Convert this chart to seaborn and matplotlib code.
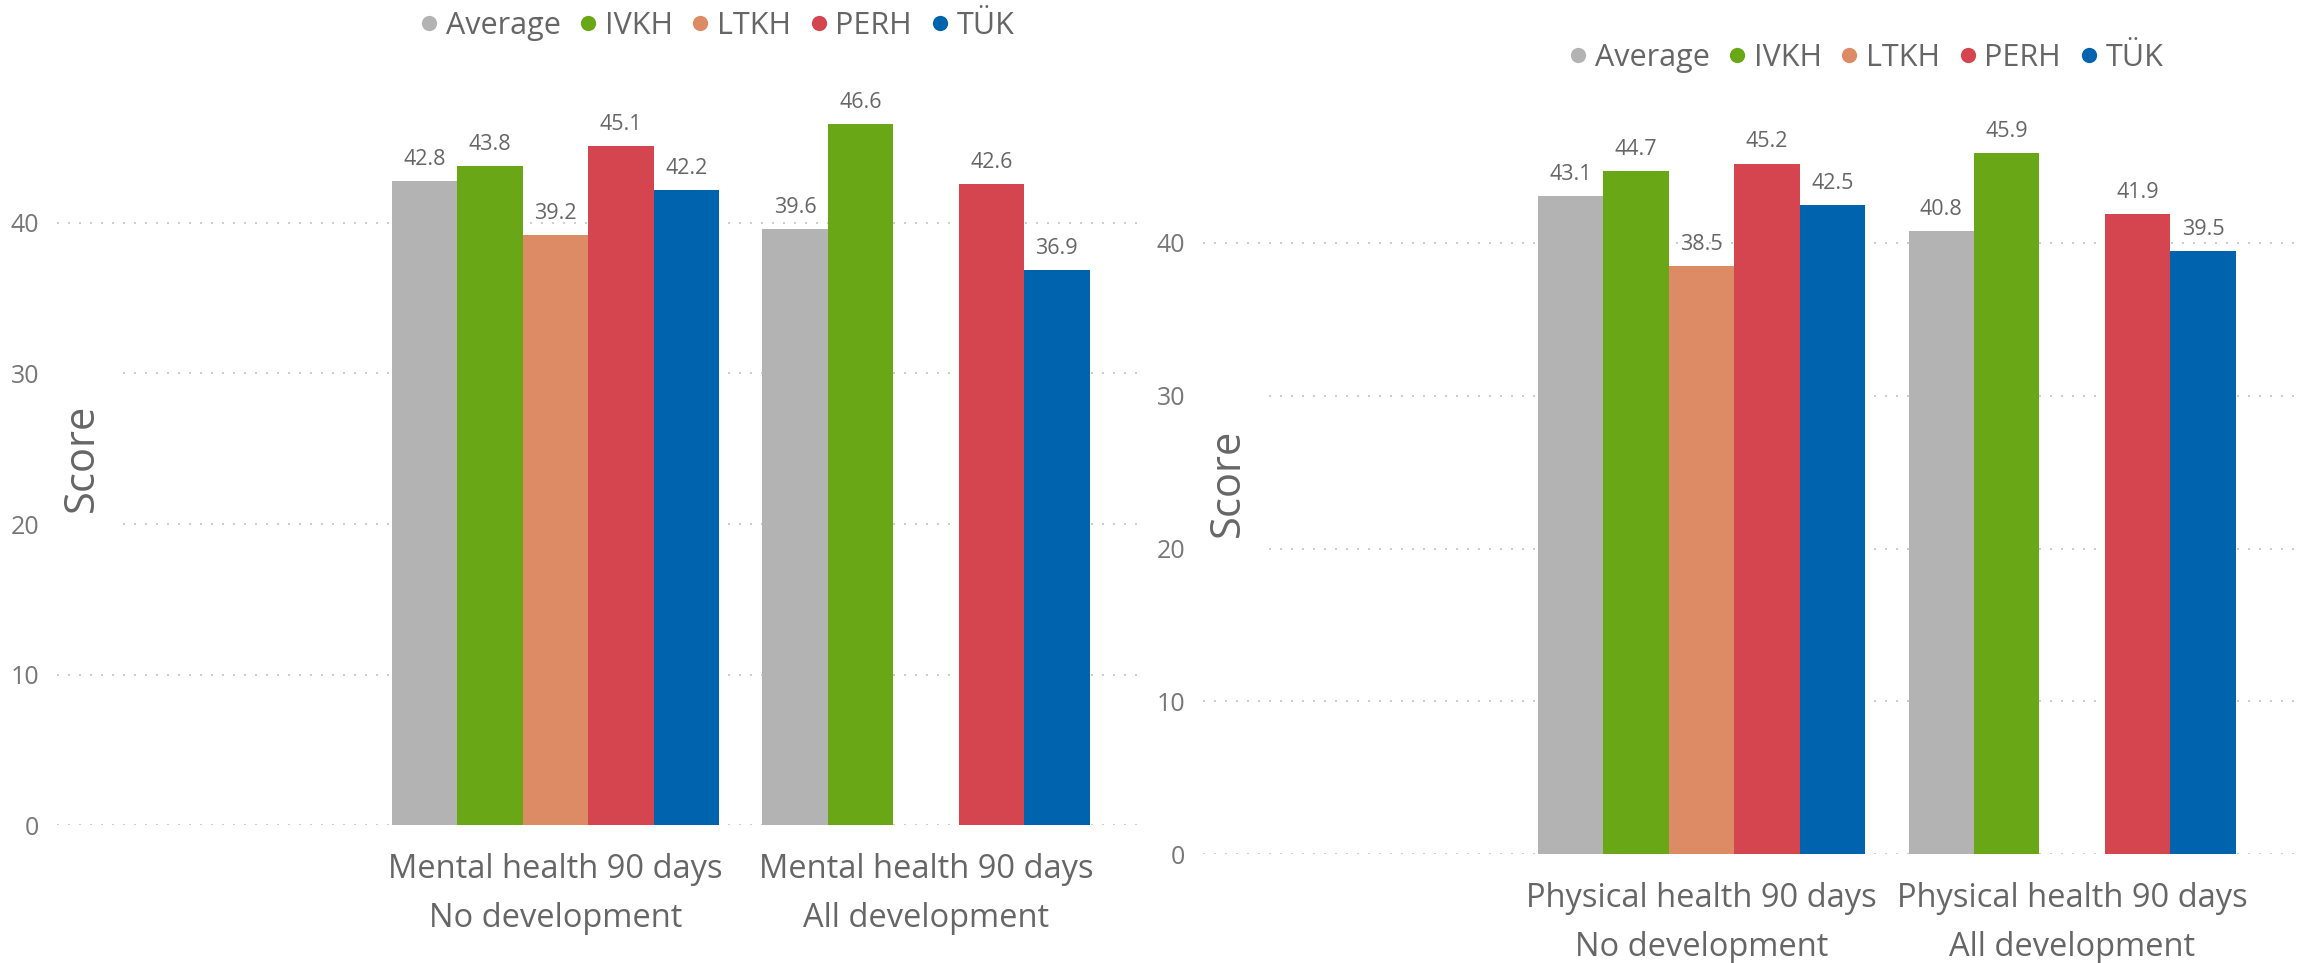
import numpy as np
import pandas as pd
import matplotlib
matplotlib.use("Agg")
import matplotlib.pyplot as plt
from matplotlib.lines import Line2D
from matplotlib.patches import Rectangle
import seaborn as sns

# ---- data -------------------------------------------------------------
groups = ["Average", "IVKH", "LTKH", "PERH", "TÜK"]
colors = ["#B3B3B3", "#6AA717", "#DD8B64", "#D5454F", "#0063AE"]

mental_categories = ["Mental health 90 days\nNo development",
                     "Mental health 90 days\nAll development"]
mental_no_dev = [42.8, 43.8, 39.2, 45.1, 42.2]
mental_all_dev = [39.6, 46.6, np.nan, 42.6, 36.9]

physical_categories = ["Physical health 90 days\nNo development",
                       "Physical health 90 days\nAll development"]
physical_no_dev = [43.1, 44.7, 38.5, 45.2, 42.5]
physical_all_dev = [40.8, 45.9, np.nan, 41.9, 39.5]

y_ticks = [0, 10, 20, 30, 40]

TEXT = "#666666"
TICK = "#777777"
GRID = "#C4C4C4"


def long_frame(categories, first, second):
    rows = []
    for cat, vals in zip(categories, [first, second]):
        for g, v in zip(groups, vals):
            rows.append({"category": cat, "group": g, "score": v})
    return pd.DataFrame(rows).dropna()


sns.set_theme(style="white")
plt.rcParams["font.family"] = ["Open Sans", "DejaVu Sans"]

fig = plt.figure(figsize=(22.97, 9.63), dpi=100)
W, H = 2297, 963


def px_axes(left, right, bottom, top):
    return fig.add_axes([left / W, 1 - bottom / H, (right - left) / W, (bottom - top) / H])


def draw_panel(ax, categories, first, second, xlim, ylim):
    df = long_frame(categories, first, second)
    sns.barplot(data=df, x="category", y="score", hue="group",
                order=categories, hue_order=groups, palette=colors,
                width=0.8826, errorbar=None, linewidth=0, saturation=1,
                legend=False, ax=ax)
    ax.set_xlim(*xlim)
    ax.set_ylim(*ylim)
    ax.set_yticks(y_ticks)
    ax.set_axisbelow(True)
    ax.yaxis.grid(True, color=GRID, linewidth=1.2, linestyle=(0, (1.2, 5.4)))
    ax.xaxis.grid(False)
    for s in ax.spines.values():
        s.set_visible(False)
    ax.tick_params(axis="y", length=0, pad=13, labelsize=18, labelcolor=TICK)
    ax.tick_params(axis="x", length=0, pad=20, labelsize=23.5, labelcolor=TEXT)
    for lab in ax.get_xticklabels():
        lab.set_linespacing(1.65)
    ax.set_xlabel("")
    ax.set_ylabel("")
    for cont in ax.containers:
        ax.bar_label(cont, fmt="%.1f", padding=8, fontsize=15.5, color=TEXT)


# left panel: mental health
ax1 = px_axes(57, 1138, 825, 72.5)
draw_panel(ax1, mental_categories, mental_no_dev, mental_all_dev,
           (-1.345, 1.572), (0, 50))

# right panel: physical health
ax2 = px_axes(1203, 2297, 854, 90.25)
draw_panel(ax2, physical_categories, physical_no_dev, physical_all_dev,
           (-1.3455, 1.607), (0, 50))

# axis titles, with the grid cleared behind them
for (xc, yc), (x0, x1, y0, y1) in [((82, 458), (57, 120, 360, 540)),
                                   ((1228, 483), (1203, 1263, 380, 565))]:
    fig.add_artist(Rectangle((x0 / W, 1 - y1 / H), (x1 - x0) / W, (y1 - y0) / H,
                             transform=fig.transFigure, facecolor="white",
                             edgecolor="none", zorder=2))
    fig.text(xc / W, 1 - yc / H, "Score", rotation=90, ha="center", va="center",
             fontsize=30, color=TEXT, zorder=3)

# legends
handles = [Line2D([0], [0], marker="o", linestyle="none", markersize=11,
                  markerfacecolor=c, markeredgewidth=0) for c in colors]
for xc, yc in [(717, 26), (1866, 58)]:
    fig.legend(handles, groups, loc="center", bbox_to_anchor=(xc / W, 1 - yc / H),
               ncol=5, frameon=False, fontsize=22, labelcolor=TEXT,
               handlelength=0.6, handletextpad=0.25, columnspacing=0.6,
               borderpad=0, borderaxespad=0)

fig.savefig("out.png", dpi=100, facecolor="white")
